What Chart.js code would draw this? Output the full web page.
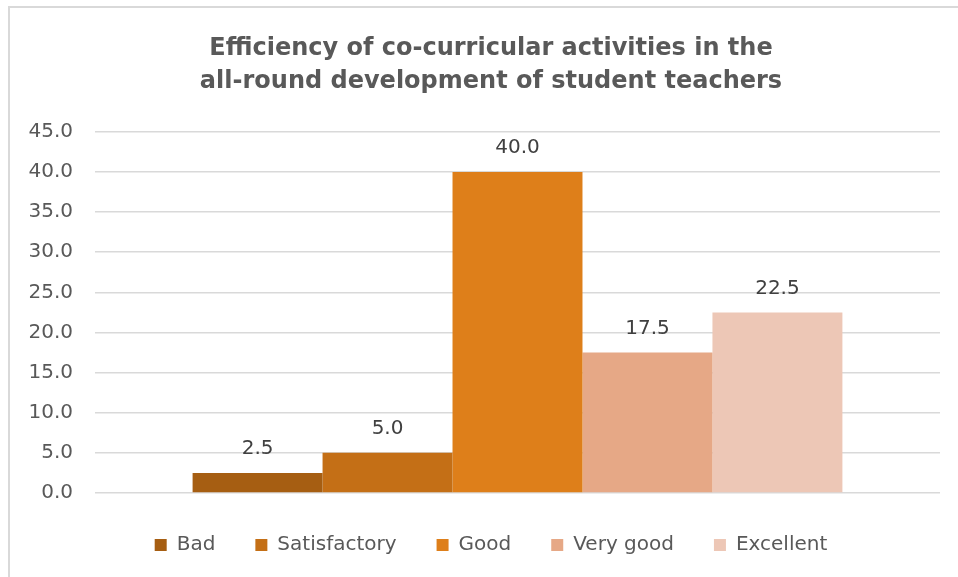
<!DOCTYPE html>
<html>
<head>
<meta charset="utf-8">
<script src="https://cdn.jsdelivr.net/npm/chart.js@4"></script>
<style>
  html, body { margin: 0; padding: 0; background: #fff; overflow: hidden; }
  #wrap { position: relative; width: 958px; height: 577px; overflow: hidden; }
  #frame {
    position: absolute; left: 8px; top: 6px; width: 1000px; height: 600px;
    border-top: 2px solid #d9d9d9; border-left: 2px solid #d9d9d9;
    pointer-events: none;
  }
</style>
</head>
<body>
<div id="wrap">
  <canvas id="chart" width="958" height="577"></canvas>
  <div id="frame"></div>
</div>
<script>
// chart data
const titleLines = ["Efficiency of co-curricular activities in the", "all-round development of student teachers"];
const categories = [""];
const seriesNames = ["Bad", "Satisfactory", "Good", "Very good", "Excellent"];
const seriesValues = [2.5, 5.0, 40.0, 17.5, 22.5];
const seriesColors = ["#a65e12", "#c46f16", "#de7f1a", "#e6a886", "#edc7b6"];
const yTicks = [0, 5, 10, 15, 20, 25, 30, 35, 40, 45];

const FONT = "'Century Gothic', 'DejaVu Sans', sans-serif";

// simple value labels above each bar
const barLabels = {
  id: "barLabels",
  afterDatasetsDraw(chart) {
    const ctx = chart.ctx;
    ctx.save();
    ctx.font = "20px " + FONT;
    ctx.fillStyle = "#404040";
    ctx.textAlign = "center";
    ctx.textBaseline = "bottom";
    chart.data.datasets.forEach((ds, i) => {
      const meta = chart.getDatasetMeta(i);
      meta.data.forEach((bar, j) => {
        ctx.fillText(ds.data[j].toFixed(1), bar.x, bar.y - 14);
      });
    });
    ctx.restore();
  }
};

// widen the y scale box after layout so its labels are not clipped
const widenY = {
  id: "widenY",
  afterLayout(chart) {
    chart.scales.y.left = 5;
  }
};

const ctx = document.getElementById("chart").getContext("2d");
new Chart(ctx, {
  type: "bar",
  data: {
    labels: categories,
    datasets: seriesNames.map((name, i) => ({
      label: name,
      data: [seriesValues[i]],
      backgroundColor: seriesColors[i],
      barPercentage: 1,
      categoryPercentage: 0.769
    }))
  },
  options: {
    responsive: false,
    animation: false,
    // extra left padding keeps title and legend centred like the original
    layout: { padding: { left: 42, right: 18, top: 33, bottom: 12 } },
    plugins: {
      title: {
        display: true,
        text: titleLines,
        color: "#595959",
        font: { family: FONT, size: 24, weight: "bold", lineHeight: 1.35 },
        padding: { top: 0, bottom: 34 }
      },
      legend: {
        position: "bottom",
        labels: {
          color: "#595959",
          font: { family: FONT, size: 20 },
          boxWidth: 12,
          boxHeight: 12,
          padding: 40
        }
      },
      tooltip: { enabled: false }
    },
    scales: {
      x: {
        afterFit(scale) {
          scale.height = 2;
        },
        grid: { display: false, drawTicks: false },
        border: { display: false },
        ticks: { display: false }
      },
      y: {
        min: 0,
        max: 45,
        afterBuildTicks(scale) {
          scale.ticks = yTicks.map(v => ({ value: v }));
        },
        afterFit(scale) {
          scale.width = 53;
        },
        grid: { color: "#d9d9d9", lineWidth: 1.5, drawTicks: false },
        border: { display: false },
        ticks: {
          color: "#595959",
          font: { family: FONT, size: 20 },
          padding: 22,
          callback: v => Number(v).toFixed(1)
        }
      }
    }
  },
  plugins: [barLabels, widenY]
});
</script>
</body>
</html>
